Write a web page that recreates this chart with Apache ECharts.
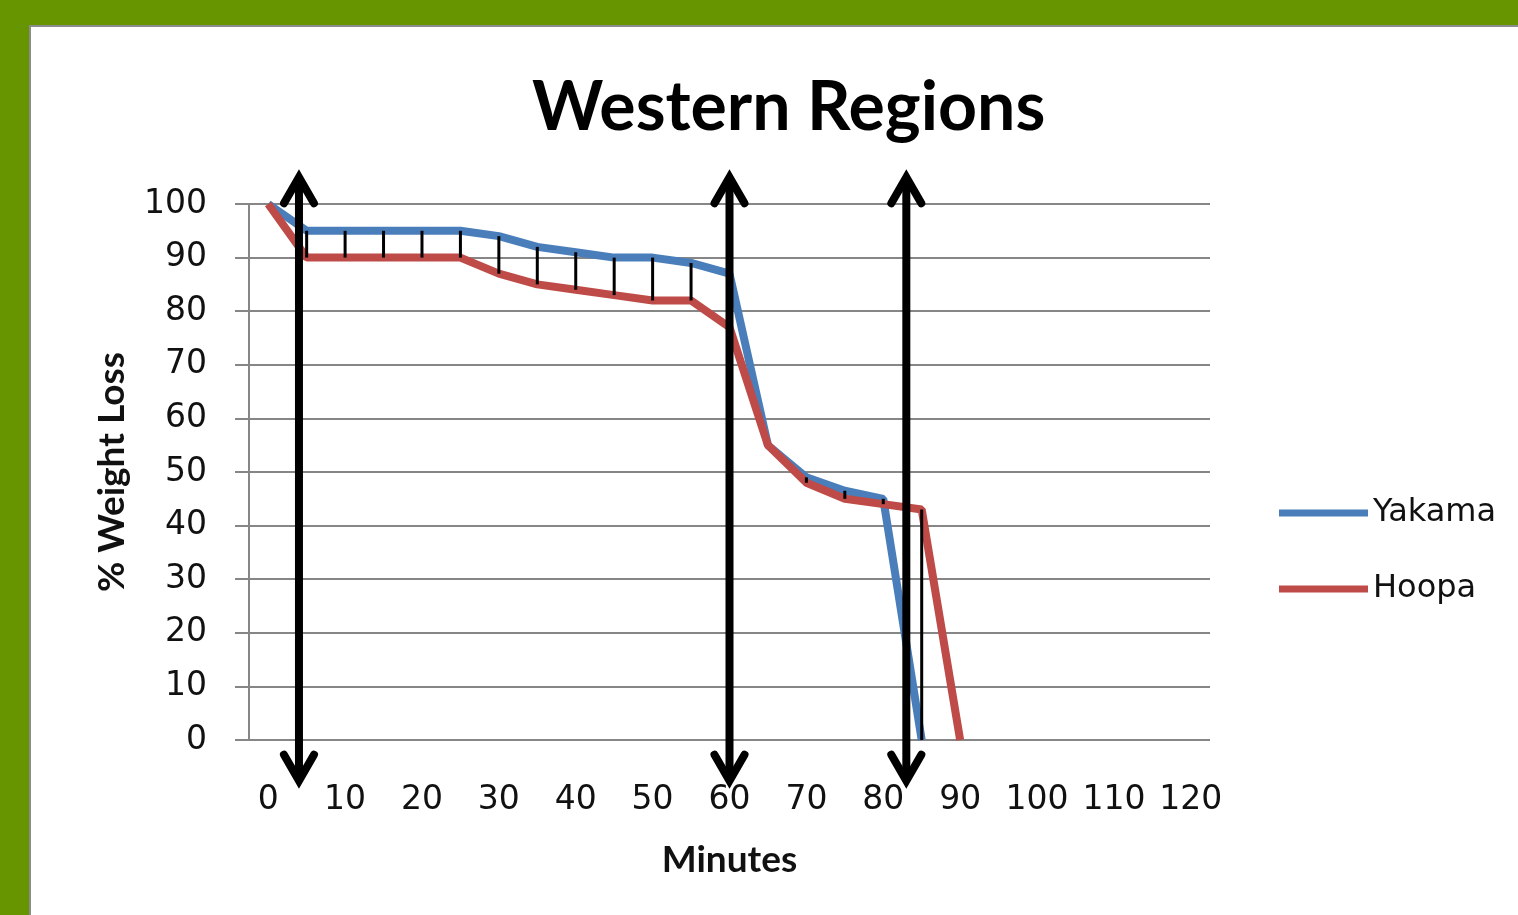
<!DOCTYPE html>
<html>
<head>
<meta charset="utf-8">
<title>Western Regions</title>
<script src="https://cdn.jsdelivr.net/npm/echarts@6/dist/echarts.min.js"></script>
<style>
  html, body { margin: 0; padding: 0; background: #ffffff; }
  #chart { width: 1518px; height: 915px; }
</style>
</head>
<body>
<div id="chart"></div>
<script>
// Minutes sampled every 5 min (x categories)
const minutes = ['0', '5', '10', '15', '20', '25', '30', '35', '40', '45', '50', '55', '60',
                 '65', '70', '75', '80', '85', '90', '95', '100', '105', '110', '115', '120'];

// % weight remaining for each region
const yakama = [100, 95, 95, 95, 95, 95, 94, 92, 91, 90, 90, 89, 87,
                55, 49, 46.5, 45, 0, null, null, null, null, null, null, null];
const hoopa  = [100, 90, 90, 90, 90, 90, 87, 85, 84, 83, 82, 82, 77,
                55, 48, 45, 44, 43, 0, null, null, null, null, null, null];

// Annotation arrows (minutes) and their vertical reach in axis units
const arrowMinutes = [4, 60, 83];
const arrowTop = 105;
const arrowBottom = -7.6;

const BLUE = '#4a7ebb';
const RED = '#be4b48';
const GRID = '#868686';

// High-low connectors between the two series at each sample
const dropLines = [];
minutes.forEach(function (m, i) {
  const a = yakama[i], b = hoopa[i];
  if (a != null && b != null && a !== b) {
    dropLines.push([Number(m), Math.min(a, b), Math.max(a, b)]);
  }
});

const chart = echarts.init(document.getElementById('chart'), null, { renderer: 'canvas' });

chart.setOption({
  backgroundColor: '#ffffff',
  animation: false,
  title: {
    text: 'Western Regions',
    left: 527,
    top: 69,
    textStyle: { fontFamily: 'Lato', fontWeight: 'bold', fontSize: 68, color: '#000000' }
  },
  legend: {
    orient: 'vertical',
    left: 1274,
    top: 488,
    itemGap: 36,
    itemWidth: 89,
    itemHeight: 7,
    icon: 'rect',
    data: ['Yakama', 'Hoopa'],
    textStyle: { fontFamily: 'DejaVu Sans', fontSize: 32, color: '#111111', lineHeight: 40 }
  },
  grid: { left: 249, right: 308, top: 204, bottom: 175, containLabel: false },
  xAxis: [
    {
      type: 'category',
      data: minutes,
      boundaryGap: true,
      name: 'Minutes',
      nameLocation: 'middle',
      nameGap: 102,
      nameTextStyle: { fontFamily: 'Lato', fontWeight: 'bold', fontSize: 37, color: '#111111' },
      axisLine: { show: false },
      axisTick: { show: false },
      splitLine: { show: false },
      axisLabel: {
        interval: 1,
        margin: 44,
        fontFamily: 'DejaVu Sans',
        fontSize: 33,
        color: '#111111'
      }
    },
    { type: 'value', min: -2.5, max: 122.5, show: false }
  ],
  yAxis: {
    type: 'value',
    min: 0,
    max: 100,
    interval: 10,
    name: '% Weight Loss',
    nameLocation: 'middle',
    nameRotate: 90,
    nameGap: 118,
    nameTextStyle: { fontFamily: 'Lato', fontWeight: 'bold', fontSize: 37, color: '#111111' },
    axisLine: { show: true, onZero: false, lineStyle: { color: GRID, width: 2 } },
    axisTick: { show: true, inside: false, length: 14, lineStyle: { color: GRID, width: 2 } },
    splitLine: { show: true, lineStyle: { color: GRID, width: 2 } },
    axisLabel: { margin: 42, fontFamily: 'DejaVu Sans', fontSize: 33, color: '#111111' }
  },
  graphic: [
    { type: 'rect', shape: { x: 0, y: 0, width: 1518, height: 25 }, style: { fill: '#669500' }, silent: true },
    { type: 'rect', shape: { x: 0, y: 0, width: 29, height: 915 }, style: { fill: '#669500' }, silent: true },
    { type: 'rect', shape: { x: 29, y: 25, width: 1489, height: 2 }, style: { fill: '#8c8c8c' }, silent: true },
    { type: 'rect', shape: { x: 29, y: 25, width: 2, height: 890 }, style: { fill: '#8c8c8c' }, silent: true }
  ],
  series: [
    {
      name: 'Yakama',
      type: 'line',
      data: yakama,
      symbol: 'none',
      color: BLUE,
      lineStyle: { color: BLUE, width: 8 },
      z: 2
    },
    {
      name: 'Hoopa',
      type: 'line',
      data: hoopa,
      symbol: 'none',
      color: RED,
      lineStyle: { color: RED, width: 8 },
      z: 2
    },
    {
      name: 'high-low',
      type: 'custom',
      xAxisIndex: 1,
      data: dropLines,
      encode: { x: 0, y: [1, 2] },
      z: 3,
      silent: true,
      renderItem: function (params, api) {
        const m = api.value(0);
        const a = api.coord([m, api.value(2)]);
        const b = api.coord([m, api.value(1)]);
        return {
          type: 'line',
          shape: { x1: a[0], y1: a[1], x2: b[0], y2: b[1] },
          style: { stroke: '#000000', lineWidth: 3 }
        };
      }
    },
    {
      name: 'arrows',
      type: 'custom',
      xAxisIndex: 1,
      data: arrowMinutes.map(function (m) { return [m, arrowTop, arrowBottom]; }),
      encode: { x: 0, y: [1, 2] },
      clip: false,
      z: 4,
      silent: true,
      renderItem: function (params, api) {
        const m = api.value(0);
        const t = api.coord([m, api.value(1)]);
        const b = api.coord([m, api.value(2)]);
        const x = t[0];
        const hw = 15, hh = 26;
        const st = { stroke: '#000000', lineWidth: 8, lineCap: 'round', lineJoin: 'miter', fill: null };
        return {
          type: 'group',
          children: [
            { type: 'line', shape: { x1: x, y1: t[1] + 2, x2: x, y2: b[1] - 2 },
              style: { stroke: '#000000', lineWidth: 8 } },
            { type: 'polyline', shape: { points: [[x - hw, t[1] + hh], [x, t[1]], [x + hw, t[1] + hh]] }, style: st },
            { type: 'polyline', shape: { points: [[x - hw, b[1] - hh], [x, b[1]], [x + hw, b[1] - hh]] }, style: st }
          ]
        };
      }
    }
  ]
});
</script>
</body>
</html>
